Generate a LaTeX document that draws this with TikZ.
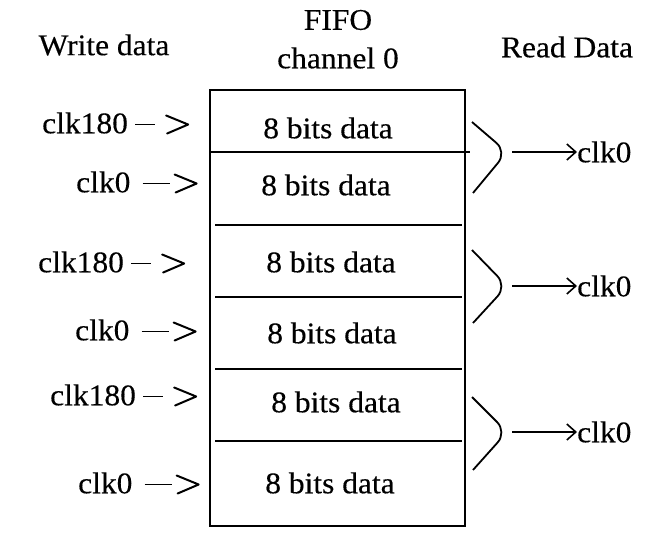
\documentclass[tikz,border=0pt]{standalone}
\usepackage{fontspec}
\setmainfont{Liberation Serif}[FakeStretch=1.05, FakeBold=0.3]
\usetikzlibrary{arrows.meta}
\begin{document}
\begin{tikzpicture}[x=1pt,y=-1pt,
  font=\fontsize{30}{32}\selectfont,
  every node/.style={inner sep=0pt},
  frame/.style={line width=2pt},
  rowline/.style={line width=2pt},
  cell/.style={anchor=center},
  wlabel/.style={anchor=west},
  dashmark/.style={line width=1.6pt},
  chevron/.style={line width=2pt, line join=round, line cap=round},
  brace/.style={line width=1.8pt, rounded corners=14pt},
  readarrow/.style={line width=1.6pt, -{Straight Barb[length=9pt,width=16pt,line width=1.6pt]}},
  title/.style={anchor=center}]
\useasboundingbox (0,0) rectangle (651,543);

% headings
\node[title] (wd)   at (104,45)  {Write data};
\node[title] (fifo) at (338,20)  {FIFO};
\node[title] (ch)   at (338,58)  {channel 0};
\node[title] (rd)   at (567,47)  {Read Data};

% FIFO frame and row separators
\draw[frame] (210,90) rectangle (465,526);
\draw[rowline] (210,152) -- (470,152);
\foreach \yy in {225,297,369,441}
  \draw[rowline] (215,\yy) -- (462,\yy);

% stored words
\node[cell] (r1) at (328,128) {8 bits data};
\node[cell] (r2) at (326,185) {8 bits data};
\node[cell] (r3) at (331,262) {8 bits data};
\node[cell] (r4) at (332,333) {8 bits data};
\node[cell] (r5) at (336,402) {8 bits data};
\node[cell] (r6) at (330,483) {8 bits data};

% write clocks: "clk180 - >" and "clk0 ->"
\node[wlabel] (w1) at (42,123)  {clk180};
\node[wlabel] (w2) at (76,182)  {clk0};
\node[wlabel] (w3) at (38,262)  {clk180};
\node[wlabel] (w4) at (75,330)  {clk0};
\node[wlabel] (w5) at (50,395)  {clk180};
\node[wlabel] (w6) at (78,483)  {clk0};
\foreach \w in {w1,w3,w5} {
  \draw[dashmark] ([shift={(7,1.5)}]\w.east) -- ++(20,0);
  \draw[chevron] ([shift={(38,-7.5)}]\w.east) -- ++(22,9) -- ++(-21,9);
}
\foreach \w in {w2,w4,w6} {
  \draw[dashmark] ([shift={(12,1.5)}]\w.east) -- ++(27,0);
  \draw[chevron] ([shift={(44,-7.5)}]\w.east) -- ++(22,9) -- ++(-21,9);
}

% read side: each pair of words merges into one clk0 read
\foreach \i/\top/\tip/\bot in {1/122/152/193, 2/250/286/323, 3/397/432/470} {
  \draw[brace] (472,\top) -- (507,\tip) -- (473,\bot);
  \coordinate (t\i) at (512,\tip);
  \node[anchor=west] (c\i) at (577,\tip) {clk0};
  \draw[readarrow] (t\i) -- (c\i.west);
}
\end{tikzpicture}
\end{document}
